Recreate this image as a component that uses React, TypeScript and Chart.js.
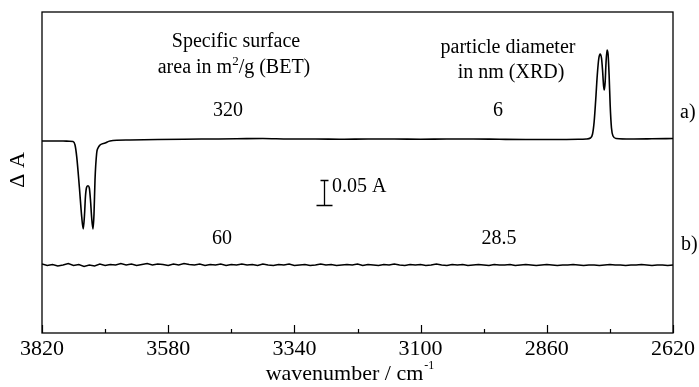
import React, { useEffect, useRef } from "react";
import { Chart, registerables } from "chart.js";

Chart.register(...registerables);

// ---- data ----
// trace a) : specific surface 320 m2/g, particle size 6 nm
const WN_A = [
  3820, 3800, 3780, 3768, 3761, 3757.2, 3754, 3749, 3744.5, 3741.6, 3739.2, 3737.3, 3735, 3732.5,
  3730, 3727.8, 3725.5, 3723, 3721.1, 3719.2, 3716, 3713.5, 3709.7, 3700, 3690.7, 3652.7, 3600,
  3550, 3500, 3450, 3400, 3350, 3300, 3250, 3200, 3150, 3100, 3050, 3000, 2950, 2900, 2850, 2800,
  2785, 2777, 2773, 2770, 2767, 2764, 2761, 2758.5, 2756, 2754, 2752, 2750.8, 2749, 2747.5,
  2745.5, 2743.5, 2741.5, 2739.5, 2737, 2734, 2728, 2700, 2660, 2620,
];
const ABS_A = [
  0.384, 0.384, 0.384, 0.3836, 0.383, 0.376, 0.3526, 0.2926, 0.2326, 0.208, 0.236, 0.274, 0.292,
  0.2946, 0.29, 0.266, 0.23, 0.208, 0.238, 0.306, 0.36, 0.37, 0.376, 0.38, 0.384, 0.386, 0.387,
  0.3876, 0.388, 0.3884, 0.389, 0.388, 0.388, 0.3874, 0.388, 0.388, 0.3876, 0.388, 0.388, 0.3874,
  0.387, 0.387, 0.3874, 0.388, 0.39, 0.398, 0.422, 0.466, 0.516, 0.55, 0.558, 0.55, 0.526, 0.494,
  0.486, 0.502, 0.538, 0.566, 0.558, 0.516, 0.456, 0.41, 0.394, 0.389, 0.388, 0.3884, 0.389,
];

// trace b) : specific surface 60 m2/g, particle size 28.5 nm
const WN_B = [
  3820, 3810, 3800, 3790, 3780, 3770, 3760, 3750, 3740, 3730, 3720, 3710, 3700, 3690, 3680, 3670,
  3660, 3650, 3640, 3630, 3620, 3610, 3600, 3590, 3580, 3570, 3560, 3550, 3540, 3530, 3520, 3510,
  3500, 3490, 3480, 3470, 3460, 3450, 3440, 3430, 3420, 3410, 3400, 3390, 3380, 3370, 3360, 3350,
  3340, 3330, 3320, 3310, 3300, 3290, 3280, 3270, 3260, 3250, 3240, 3230, 3220, 3210, 3200, 3190,
  3180, 3170, 3160, 3150, 3140, 3130, 3120, 3110, 3100, 3090, 3080, 3070, 3060, 3050, 3040, 3030,
  3020, 3010, 3000, 2990, 2980, 2970, 2960, 2950, 2940, 2930, 2920, 2910, 2900, 2890, 2880, 2870,
  2860, 2850, 2840, 2830, 2820, 2810, 2800, 2790, 2780, 2770, 2760, 2750, 2740, 2730, 2720, 2710,
  2700, 2690, 2680, 2670, 2660, 2650, 2640, 2630, 2620,
];
const ABS_B = [
  0.138, 0.135, 0.137, 0.134, 0.136, 0.139, 0.135, 0.137, 0.133, 0.136, 0.134, 0.138, 0.135, 0.137,
  0.136, 0.139, 0.136, 0.138, 0.135, 0.137, 0.139, 0.136, 0.138, 0.137, 0.135, 0.138, 0.136, 0.139,
  0.137, 0.136, 0.138, 0.135, 0.137,
  0.136, 0.138, 0.135, 0.137, 0.136, 0.138, 0.136, 0.137, 0.135, 0.138, 0.136, 0.135, 0.137, 0.136,
  0.138, 0.135, 0.136, 0.137, 0.135, 0.136, 0.138, 0.136, 0.137, 0.135, 0.136, 0.137, 0.136, 0.138,
  0.135, 0.137, 0.136, 0.135, 0.137, 0.136, 0.138, 0.136, 0.135, 0.137, 0.136, 0.137, 0.135, 0.136,
  0.138, 0.136, 0.135, 0.137, 0.136, 0.137, 0.135, 0.136, 0.137, 0.136, 0.135, 0.137, 0.136, 0.136,
  0.137, 0.135, 0.136, 0.137,
  0.136, 0.135, 0.136, 0.137, 0.136, 0.135, 0.136, 0.136, 0.137, 0.136, 0.135, 0.136, 0.136, 0.135,
  0.136, 0.137, 0.136, 0.136, 0.135, 0.136, 0.136, 0.137, 0.136, 0.135, 0.136, 0.136, 0.135, 0.136,
];

const X_TICK_LABELS = [3820, 3580, 3340, 3100, 2860, 2620];
const SURFACE_AREA = ["320", "60"];
const PARTICLE_SIZE = ["6", "28.5"];
const SERIES_LABELS = ["a)", "b)"];
const SCALE_BAR = 0.05; // absorbance units

const SERIF = "'Liberation Serif', 'Times New Roman', serif";

const decorPlugin = {
  id: "decor",
  afterDraw(chart: any) {
    const { ctx, chartArea: a, scales } = chart;
    const xs = scales.x;
    const ys = scales.y;
    ctx.save();
    ctx.strokeStyle = "#000";
    ctx.fillStyle = "#000";
    // frame
    ctx.lineWidth = 1.3;
    ctx.strokeRect(a.left, a.top, a.right - a.left, a.bottom - a.top);
    // inward ticks on bottom axis
    ctx.lineWidth = 1.2;
    xs.ticks.forEach((t: any) => {
      const px = Math.round(xs.getPixelForValue(t.value)) + 0.5;
      const major = X_TICK_LABELS.includes(t.value);
      ctx.beginPath();
      ctx.moveTo(px, a.bottom);
      ctx.lineTo(px, a.bottom - (major ? 8 : 4));
      ctx.stroke();
    });

    const txt = (s: string, x: number, y: number, align: CanvasTextAlign, base: CanvasTextBaseline, size = 20) => {
      ctx.font = `${size}px ${SERIF}`;
      ctx.textAlign = align;
      ctx.textBaseline = base;
      ctx.fillText(s, x, y);
    };

    // header texts
    txt("Specific surface", 236, 47, "center", "alphabetic");
    // "area in m²/g (BET)" with superscript
    const p1 = "area in m";
    const p2 = "/g (BET)";
    ctx.font = `20px ${SERIF}`;
    const w1 = ctx.measureText(p1).width;
    const w3 = ctx.measureText(p2).width;
    ctx.font = `13px ${SERIF}`;
    const w2 = ctx.measureText("2").width;
    const sx = 234 - (w1 + w2 + w3) / 2;
    txt(p1, sx, 73, "left", "alphabetic");
    txt("2", sx + w1, 65, "left", "alphabetic", 13);
    txt(p2, sx + w1 + w2, 73, "left", "alphabetic");

    txt("particle diameter", 508, 53, "center", "alphabetic");
    txt("in nm (XRD)", 511, 78, "center", "alphabetic");

    txt(SURFACE_AREA[0], 228, 111, "center", "middle");
    txt(PARTICLE_SIZE[0], 498, 111, "center", "middle");
    txt(SURFACE_AREA[1], 222, 239, "center", "middle");
    txt(PARTICLE_SIZE[1], 499, 239, "center", "middle");

    txt(SERIES_LABELS[0], a.right + 7, 113, "left", "middle");
    txt(SERIES_LABELS[1], a.right + 8, 245, "left", "middle");

    // scale bar (0.05 A) drawn in data units
    const barX = 324.5;
    const yBot = 205.5;
    const len = ys.getPixelForValue(0) - ys.getPixelForValue(SCALE_BAR);
    const yTop = yBot - len;
    ctx.lineWidth = 1.3;
    ctx.beginPath();
    ctx.moveTo(barX, yTop);
    ctx.lineTo(barX, yBot);
    ctx.moveTo(barX - 8, yBot);
    ctx.lineTo(barX + 8, yBot);
    ctx.moveTo(barX - 4, yTop);
    ctx.lineTo(barX + 4, yTop);
    ctx.stroke();
    txt("0.05 A", 332, 187, "left", "middle");

    // y title (rotated)
    ctx.save();
    ctx.translate(18, 170);
    ctx.rotate(-Math.PI / 2);
    txt("\u0394 A", 0, 0, "center", "middle", 22);
    ctx.restore();

    // x title with superscript
    const t1 = "wavenumber / cm";
    ctx.font = `22px ${SERIF}`;
    const tw1 = ctx.measureText(t1).width;
    ctx.font = `12px ${SERIF}`;
    const tw2 = ctx.measureText("-1").width;
    const cx = (a.left + a.right) / 2 - 8;
    const tx = cx - (tw1 + tw2) / 2;
    txt(t1, tx, 380, "left", "alphabetic", 22);
    txt("-1", tx + tw1 + 1, 369, "left", "alphabetic", 12);

    ctx.restore();
  },
};

export default function App() {
  const ref = useRef<HTMLCanvasElement>(null);
  useEffect(() => {
    document.body.style.margin = "0";
    const chart = new Chart(ref.current as HTMLCanvasElement, {
      type: "line",
      data: {
        datasets: [
          {
            label: "a",
            data: WN_A.map((x, i) => ({ x, y: ABS_A[i] })),
            borderColor: "#000",
            borderWidth: 1.6,
            pointRadius: 0,
            cubicInterpolationMode: "monotone",
            fill: false,
          },
          {
            label: "b",
            data: WN_B.map((x, i) => ({ x, y: ABS_B[i] })),
            borderColor: "#000",
            borderWidth: 1.4,
            pointRadius: 0,
            tension: 0,
            fill: false,
          },
        ],
      },
      options: {
        animation: false,
        responsive: false,
        devicePixelRatio: 1,
        layout: { padding: { left: 42, right: 26, top: 12, bottom: 0 } },
        plugins: { legend: { display: false }, tooltip: { enabled: false }, title: { display: false } },
        scales: {
          x: {
            type: "linear",
            reverse: true,
            min: 2620,
            max: 3820,
            grid: { display: false, drawTicks: false },
            border: { display: false },
            ticks: {
              stepSize: 120,
              autoSkip: false,
              maxRotation: 0,
              padding: 3,
              color: "#000",
              font: { family: SERIF, size: 22 },
              callback: (v: any) => (X_TICK_LABELS.includes(Number(v)) ? String(v) : ""),
            },
            afterFit: (s: any) => {
              s.height = 54;
            },
          },
          y: {
            display: false,
            min: 0,
            max: 0.642,
          },
        },
      },
      plugins: [decorPlugin],
    } as any);
    return () => chart.destroy();
  }, []);
  return (
    <div style={{ position: "relative", width: 699, height: 387 }}>
      <canvas ref={ref} width={699} height={387} style={{ display: "block" }} />
    </div>
  );
}
